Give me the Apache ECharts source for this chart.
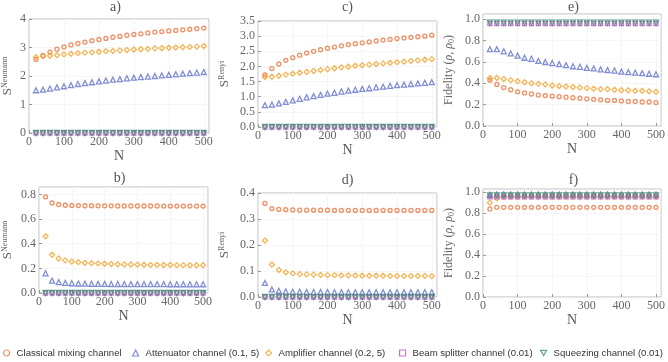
<!DOCTYPE html>
<html>
<head>
<meta charset="utf-8">
<script src="https://cdn.jsdelivr.net/npm/echarts@6/dist/echarts.min.js"></script>
<style>
  html, body { margin: 0; padding: 0; background: #fff; }
  #main { width: 668px; height: 362px; }
</style>
</head>
<body>
<div id="main"></div>
<script>
// N values (25 points)
var nValues = [20,40,60,80,100,120,140,160,180,200,220,240,260,280,300,320,340,360,380,400,420,440,460,480,500];

var seriesNames = ['Classical mixing channel', 'Attenuator channel (0.1, 5)', 'Amplifier channel (0.2, 5)', 'Beam splitter channel (0.01)', 'Squeezing channel (0.01)'];

// a) Neumann entropy
var neumannMixA = [2.58,2.72,2.84,2.94,3.02,3.09,3.14,3.19,3.24,3.28,3.32,3.36,3.39,3.43,3.46,3.48,3.51,3.54,3.56,3.58,3.60,3.62,3.64,3.66,3.68];
var neumannAttA = [1.50,1.52,1.56,1.60,1.64,1.68,1.72,1.75,1.78,1.81,1.84,1.87,1.89,1.92,1.94,1.96,1.98,2.00,2.02,2.04,2.06,2.08,2.10,2.12,2.14];
var neumannAmpA = [2.66,2.69,2.71,2.73,2.76,2.78,2.80,2.82,2.83,2.85,2.87,2.88,2.90,2.91,2.93,2.94,2.95,2.97,2.98,2.99,3.00,3.01,3.02,3.03,3.05];
var neumannBsA  = [0,0,0,0,0,0,0,0,0,0,0,0,0,0,0,0,0,0,0,0,0,0,0,0,0];
var neumannSqA  = [0,0,0,0,0,0,0,0,0,0,0,0,0,0,0,0,0,0,0,0,0,0,0,0,0];

// b) Neumann entropy
var neumannMixB = [0.78,0.73,0.718,0.712,0.71,0.709,0.708,0.708,0.707,0.707,0.707,0.706,0.706,0.706,0.706,0.706,0.706,0.706,0.705,0.705,0.705,0.705,0.705,0.705,0.705];
var neumannAttB = [0.16,0.10,0.088,0.082,0.079,0.077,0.076,0.075,0.074,0.074,0.073,0.073,0.073,0.072,0.072,0.072,0.072,0.072,0.072,0.071,0.071,0.071,0.071,0.071,0.071];
var neumannAmpB = [0.46,0.31,0.28,0.265,0.255,0.25,0.245,0.242,0.24,0.237,0.235,0.233,0.232,0.231,0.23,0.229,0.228,0.228,0.227,0.227,0.226,0.226,0.225,0.225,0.225];
var neumannBsB  = [0,0,0,0,0,0,0,0,0,0,0,0,0,0,0,0,0,0,0,0,0,0,0,0,0];
var neumannSqB  = [0,0,0,0,0,0,0,0,0,0,0,0,0,0,0,0,0,0,0,0,0,0,0,0,0];

// c) Renyi entropy
var renyiMixC = [1.72,1.93,2.08,2.20,2.29,2.37,2.44,2.50,2.55,2.60,2.64,2.68,2.72,2.75,2.78,2.81,2.84,2.87,2.89,2.92,2.94,2.96,2.98,3.00,3.03];
var renyiAttC = [0.72,0.74,0.78,0.83,0.88,0.93,0.98,1.02,1.06,1.10,1.13,1.17,1.20,1.23,1.26,1.28,1.31,1.33,1.36,1.38,1.40,1.42,1.44,1.46,1.48];
var renyiAmpC = [1.65,1.66,1.69,1.73,1.76,1.79,1.82,1.85,1.88,1.91,1.94,1.97,1.99,2.02,2.04,2.06,2.08,2.10,2.12,2.14,2.16,2.18,2.20,2.22,2.24];
var renyiBsC  = [0,0,0,0,0,0,0,0,0,0,0,0,0,0,0,0,0,0,0,0,0,0,0,0,0];
var renyiSqC  = [0,0,0,0,0,0,0,0,0,0,0,0,0,0,0,0,0,0,0,0,0,0,0,0,0];

// d) Renyi entropy
var renyiMixD = [0.36,0.34,0.337,0.336,0.335,0.334,0.334,0.334,0.334,0.334,0.333,0.333,0.333,0.333,0.333,0.333,0.333,0.333,0.333,0.333,0.333,0.333,0.333,0.333,0.333];
var renyiAttD = [0.054,0.029,0.024,0.021,0.02,0.02,0.019,0.019,0.019,0.019,0.018,0.018,0.018,0.018,0.018,0.018,0.018,0.018,0.018,0.018,0.018,0.018,0.018,0.018,0.018];
var renyiAmpD = [0.217,0.125,0.104,0.095,0.091,0.088,0.087,0.086,0.085,0.084,0.084,0.083,0.083,0.083,0.082,0.082,0.082,0.082,0.081,0.081,0.081,0.081,0.081,0.081,0.08];
var renyiBsD  = [0,0,0,0,0,0,0,0,0,0,0,0,0,0,0,0,0,0,0,0,0,0,0,0,0];
var renyiSqD  = [0,0,0,0,0,0,0,0,0,0,0,0,0,0,0,0,0,0,0,0,0,0,0,0,0];

// e) Fidelity
var fidMixE = [0.43,0.39,0.36,0.34,0.32,0.31,0.30,0.29,0.285,0.28,0.275,0.27,0.265,0.26,0.255,0.25,0.245,0.24,0.24,0.235,0.23,0.23,0.225,0.225,0.22];
var fidAttE = [0.72,0.72,0.70,0.68,0.66,0.64,0.63,0.61,0.60,0.59,0.58,0.57,0.56,0.555,0.545,0.54,0.53,0.525,0.52,0.51,0.505,0.50,0.495,0.49,0.485];
var fidAmpE = [0.45,0.45,0.44,0.43,0.42,0.41,0.40,0.395,0.39,0.38,0.375,0.37,0.365,0.36,0.355,0.35,0.345,0.345,0.34,0.335,0.335,0.33,0.33,0.325,0.32];
var fidBsE  = [0.96,0.96,0.96,0.96,0.96,0.96,0.96,0.96,0.96,0.96,0.96,0.96,0.96,0.96,0.96,0.96,0.96,0.96,0.96,0.96,0.96,0.96,0.96,0.96,0.96];
var fidSqE  = [0.97,0.97,0.97,0.97,0.97,0.97,0.97,0.97,0.97,0.97,0.97,0.97,0.97,0.97,0.97,0.97,0.97,0.97,0.97,0.97,0.97,0.97,0.97,0.97,0.97];

// f) Fidelity
var fidMixF = [0.84,0.855,0.855,0.855,0.855,0.855,0.855,0.855,0.855,0.855,0.855,0.855,0.855,0.855,0.855,0.855,0.855,0.855,0.855,0.855,0.855,0.855,0.855,0.855,0.855];
var fidAttF = [0.975,0.978,0.978,0.978,0.978,0.978,0.978,0.978,0.978,0.978,0.978,0.978,0.978,0.978,0.978,0.978,0.978,0.978,0.978,0.978,0.978,0.978,0.978,0.978,0.978];
var fidAmpF = [0.90,0.94,0.955,0.958,0.96,0.96,0.96,0.96,0.96,0.96,0.96,0.96,0.96,0.96,0.96,0.96,0.96,0.96,0.96,0.96,0.96,0.96,0.96,0.96,0.96];
var fidBsF  = [0.955,0.955,0.955,0.955,0.955,0.955,0.955,0.955,0.955,0.955,0.955,0.955,0.955,0.955,0.955,0.955,0.955,0.955,0.955,0.955,0.955,0.955,0.955,0.955,0.955];
var fidSqF  = [0.97,0.97,0.97,0.97,0.97,0.97,0.97,0.97,0.97,0.97,0.97,0.97,0.97,0.97,0.97,0.97,0.97,0.97,0.97,0.97,0.97,0.97,0.97,0.97,0.97];

var colors = ['#E9743F', '#6272C9', '#F3A330', '#B851C4', '#3E8C72'];
var symbols = ['circle', 'triangle', 'diamond', 'rect', 'path://M0,0 L10,0 L5,8.66 Z'];
var symbolSizes = [4, 5, 5, 4, 5];
var legendLefts = [3, 132, 265, 399, 540];

var serif = 'Liberation Serif';

var panels = [
  { title: 'a)', grid: {left: 22, top: 19, width: 187, height: 114}, yMax: 4, yInt: 1, yName: '{s|S}{sup|Neumann}', nameGap: 14,
    data: [neumannMixA, neumannAttA, neumannAmpA, neumannBsA, neumannSqA], titleTop: 0 },
  { title: 'c)', grid: {left: 258, top: 21, width: 179, height: 106}, yMax: 3.5, yInt: 0.5, yName: '{s|S}{sup|Renyi}', nameGap: 26,
    data: [renyiMixC, renyiAttC, renyiAmpC, renyiBsC, renyiSqC], titleTop: 0 },
  { title: 'e)', grid: {left: 483, top: 14, width: 181, height: 112}, yMax: 1.05, yInt: 0.2, yName: 'Fidelity ({i|ρ}, {i|ρ}{sub|0})', nameGap: 27,
    data: [fidMixE, fidAttE, fidAmpE, fidBsE, fidSqE], titleTop: 0 },
  { title: 'b)', grid: {left: 31, top: 187, width: 177, height: 106}, yMax: 0.86, yInt: 0.2, yName: '{s|S}{sup|Neumann}', nameGap: 24,
    data: [neumannMixB, neumannAttB, neumannAmpB, neumannBsB, neumannSqB], titleTop: 171 },
  { title: 'd)', grid: {left: 258, top: 193, width: 179, height: 104}, yMax: 0.4, yInt: 0.1, yName: '{s|S}{sup|Renyi}', nameGap: 26,
    data: [renyiMixD, renyiAttD, renyiAmpD, renyiBsD, renyiSqD], titleTop: 173 },
  { title: 'f)', grid: {left: 483, top: 189, width: 181, height: 108}, yMax: 1.03, yInt: 0.2, yName: 'Fidelity ({i|ρ}, {i|ρ}{sub|0})', nameGap: 27,
    data: [fidMixF, fidAttF, fidAmpF, fidBsF, fidSqF], titleTop: 173 }
];

var grids = [], xAxes = [], yAxes = [], titles = [], series = [];

panels.forEach(function (p, k) {
  grids.push(Object.assign({show: true, borderColor: '#bdbdbd', borderWidth: 1, backgroundColor: '#fff'}, p.grid));
  titles.push({
    text: p.title, left: p.grid.left + p.grid.width / 2, top: p.titleTop, textAlign: 'center', padding: 0,
    textStyle: {fontFamily: serif, fontSize: 14, fontWeight: 'normal', color: '#555'}
  });
  xAxes.push({
    type: 'value', gridIndex: k, min: 0, max: 515, interval: 100,
    name: 'N', nameLocation: 'middle', nameGap: 15,
    nameTextStyle: {fontFamily: serif, fontSize: 14, color: '#555'},
    axisLine: {show: false},
    axisTick: {show: true, inside: true, length: 3, lineStyle: {color: '#999'}},
    axisLabel: {fontFamily: serif, fontSize: 12, color: '#666', margin: 3, showMaxLabel: false},
    splitLine: {show: true, lineStyle: {color: '#eeeeee', type: 'dotted'}}
  });
  yAxes.push({
    type: 'value', gridIndex: k, min: 0, max: p.yMax, interval: p.yInt,
    name: p.yName, nameLocation: 'middle', nameRotate: 90, nameGap: p.nameGap,
    nameTextStyle: {
      fontFamily: serif, fontSize: 12, color: '#666',
      rich: {
        s: {fontFamily: serif, fontSize: 13, color: '#666', lineHeight: 14},
        sup: {fontFamily: serif, fontSize: 8, color: '#666', verticalAlign: 'top', lineHeight: 14},
        sub: {fontFamily: serif, fontSize: 8, color: '#666', verticalAlign: 'bottom', lineHeight: 14},
        i: {fontFamily: serif, fontSize: 12, fontStyle: 'italic', color: '#666'}
      }
    },
    axisLine: {show: false},
    axisTick: {show: true, inside: true, length: 3, lineStyle: {color: '#999'}},
    axisLabel: {fontFamily: serif, fontSize: 12, color: '#666', margin: 3, showMaxLabel: p.yMax % p.yInt < 1e-9,
      formatter: function (v) { return p.yInt < 1 ? v.toFixed(1) : String(v); }},
    splitLine: {show: true, lineStyle: {color: '#eeeeee', type: 'dotted'}}
  });
  p.data.forEach(function (vals, s) {
    series.push({
      name: seriesNames[s], type: 'scatter', xAxisIndex: k, yAxisIndex: k,
      symbol: symbols[s], symbolSize: symbolSizes[s],
      itemStyle: {color: 'rgba(255,255,255,0)', borderColor: colors[s], borderWidth: 1.3},
      data: nValues.map(function (n, i) { return [n, vals[i]]; })
    });
  });
});

// one legend per entry so each item sits where it does in the reference
var legends = seriesNames.map(function (name, s) {
  return {
    data: [name], left: legendLefts[s], top: 348, itemWidth: 6, itemHeight: 6, itemGap: 0, padding: 0,
    itemStyle: {borderWidth: 1.2},
    textStyle: {fontFamily: 'Liberation Sans', fontSize: 9.6, color: '#333', padding: [0, 0, 0, 2]}
  };
});

var chart = echarts.init(document.getElementById('main'), null, {renderer: 'canvas'});
chart.setOption({
  animation: false,
  title: titles,
  grid: grids,
  xAxis: xAxes,
  yAxis: yAxes,
  legend: legends,
  series: series
});
</script>
</body>
</html>
